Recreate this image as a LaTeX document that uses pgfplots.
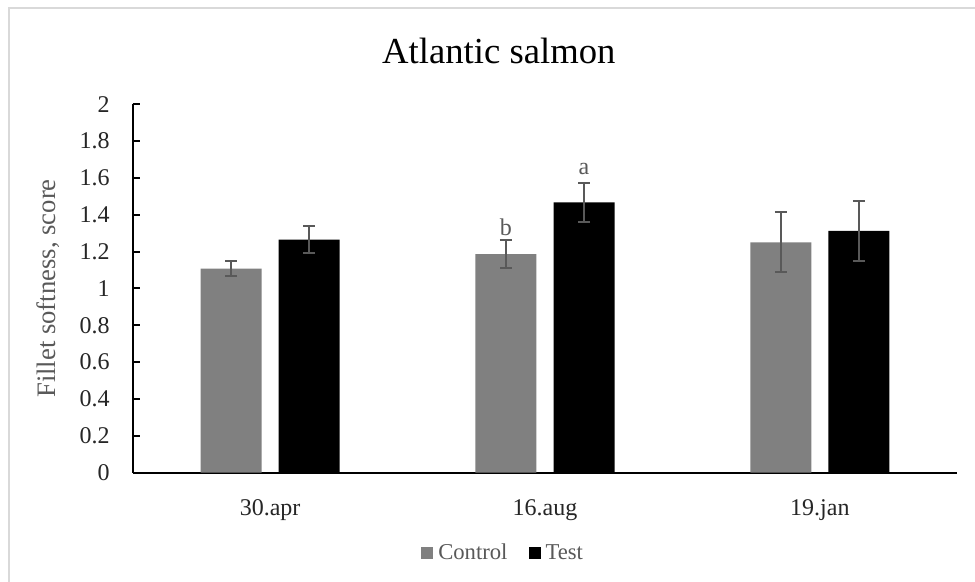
\documentclass[border=0pt]{standalone}
\usepackage{fontspec}
\setmainfont{Liberation Serif}
\usepackage{pgfplots}
\pgfplotsset{compat=1.18}
\usepackage{pgfplotstable}
\definecolor{ctrl}{HTML}{808080}
\definecolor{txtg}{HTML}{595959}
\definecolor{tickc}{HTML}{262626}
\definecolor{bord}{HTML}{D9D9D9}

\pgfplotstableread{
x y e
0 1.108 0.041
1 1.186 0.077
2 1.250 0.163
}\control
\pgfplotstableread{
x y e
0 1.265 0.074
1 1.468 0.107
2 1.312 0.164
}\test

\begin{document}
\begin{tikzpicture}
\path[use as bounding box, fill=white] (0,0) rectangle (731.25pt,436.5pt);
\draw[bord, line width=1.5pt] (7.1pt,0) -- (7.1pt,430.5pt) -- (731.25pt,430.5pt);
\node[anchor=base, font=\fontsize{27.5}{31}\selectfont] at (374.1pt,389pt) {Atlantic salmon};
\begin{axis}[
  at={(99.5pt,82pt)}, anchor=south west,
  scale only axis, width=618.5pt, height=276.3pt,
  xmin=-0.5, xmax=2.5, ymin=0, ymax=2,
  axis x line=bottom, axis y line=left,
  axis line style={-, line width=1.5pt, black},
  xtick={0,1,2}, xticklabels={30.apr,16.aug,19.jan},
  xtick style={draw=none},
  ytick={0,0.2,0.4,0.6,0.8,1,1.2,1.4,1.6,1.8,2},
  yticklabels={0,0.2,0.4,0.6,0.8,1,1.2,1.4,1.6,1.8,2},
  ytick style={line width=1.5pt, black},
  tick align=inside, major tick length=5.25pt,
  /pgf/number format/assume math mode=true,
  yticklabel style={anchor=east, inner sep=0pt, xshift=-17pt, text=tickc, font=\fontsize{18}{21}\selectfont},
  xticklabel style={anchor=base, inner sep=0pt, yshift=-27.2pt, text=tickc, font=\fontsize{18}{21}\selectfont},
  ylabel={Fillet softness, score},
  ylabel style={at={(axis description cs:-0.1027,0.5)}, anchor=center, text=txtg, font=\fontsize{20}{23}\selectfont},
  ybar, bar width=0.222,
  legend columns=2,
  legend style={draw=none, fill=none, at={(axis description cs:0.448,-0.218)}, anchor=center,
    nodes={inner sep=0pt, text=txtg, font=\fontsize{17}{20}\selectfont},
    /tikz/every odd column/.append style={column sep=3.75pt},
    /tikz/every even column/.append style={column sep=15.75pt}},
  legend image code/.code={\fill[#1] (0pt,-4.5pt) rectangle (9pt,4.5pt);},
  error bars/y dir=both, error bars/y explicit,
  error bars/error bar style={line width=1.5pt, txtg},
  error bars/error mark options={rotate=90, mark size=4.5pt, line width=1.5pt, txtg},
]
\addplot[fill=ctrl, draw=none, bar shift=-0.142] table[x=x, y=y, y error=e]{\control};
\addlegendentry{Control}
\addplot[fill=black, draw=none, bar shift=0.142] table[x=x, y=y, y error=e]{\test};
\addlegendentry{Test}
\node[anchor=base, text=txtg, font=\fontsize{18}{21}\selectfont] at (axis cs:0.858,1.290) {b};
\node[anchor=base, text=txtg, font=\fontsize{18}{21}\selectfont] at (axis cs:1.142,1.616) {a};
\end{axis}
\end{tikzpicture}
\end{document}
